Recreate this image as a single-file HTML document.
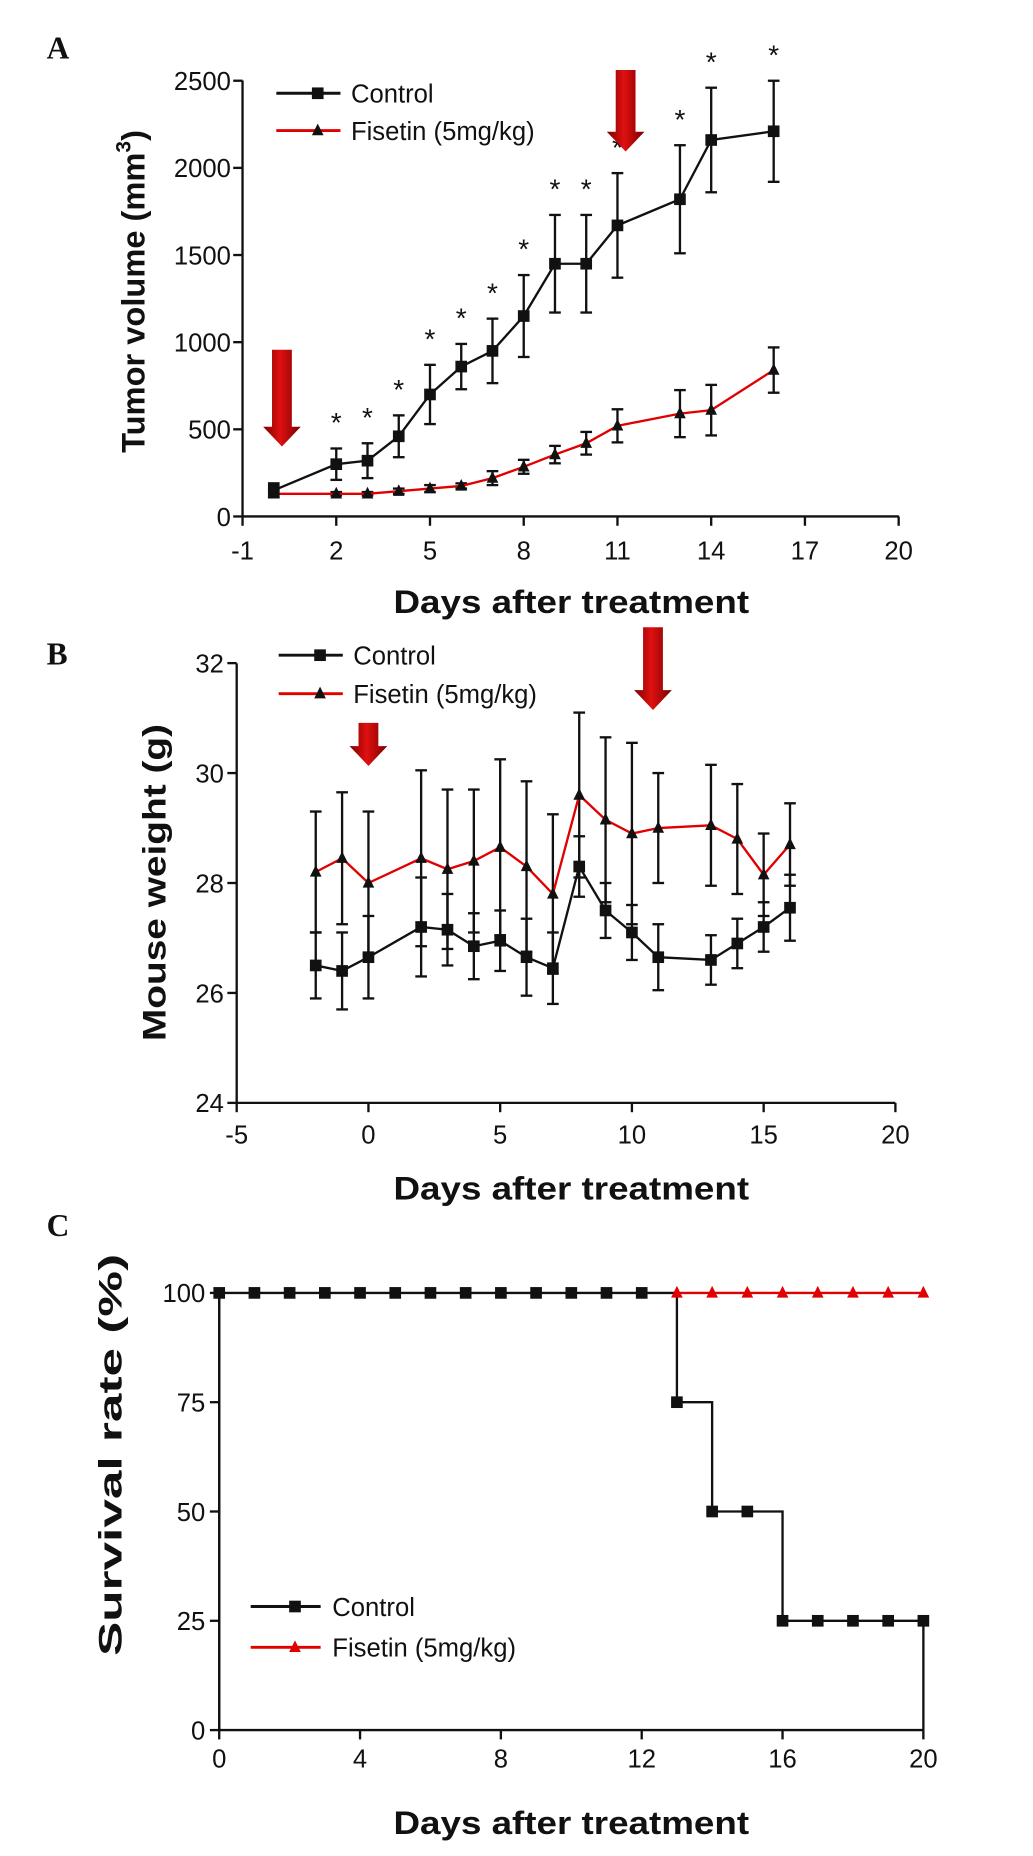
<!DOCTYPE html>
<html><head><meta charset="utf-8"><style>
html,body{margin:0;padding:0;background:#fff}
svg{display:block}
text{font-family:"Liberation Sans",Arial,sans-serif;fill:#111}
.tick{font-size:22px}
.title{font-size:28px;font-weight:bold}
.leg{font-size:22px}
.letter{font-family:"Liberation Serif",serif;font-size:27px;font-weight:bold}
</style></head><body>
<svg id="fig" width="1033" height="1856" viewBox="0 0 886 1592" xmlns="http://www.w3.org/2000/svg">
<defs>
<linearGradient id="arr" x1="0" x2="1" y1="0" y2="0">
<stop offset="0" stop-color="#7a0000"/><stop offset="0.45" stop-color="#e01010"/><stop offset="1" stop-color="#7a0000"/>
</linearGradient>
</defs>
<text class="letter" x="40" y="50">A</text>
<text class="letter" x="40" y="570">B</text>
<text class="letter" x="40" y="1060">C</text>
</svg>
<script>
// Panel A data
const daysA = [0,2,3,4,5,6,7,8,9,10,11,13,14,16];
const ctrlA = [150,300,320,460,700,860,950,1150,1450,1450,1670,1820,2160,2210];
const ctrlAErr = [40,90,100,120,170,130,185,235,280,280,300,310,300,290];
const fisA = [130,130,130,145,160,175,220,285,355,420,520,590,610,840];
const fisAErr = [20,10,10,15,20,15,40,40,50,65,95,135,145,130];
const starDaysA = [2,3,4,5,6,7,8,9,10,11,13,14,16];
const xTicksA = [-1,2,5,8,11,14,17,20];
const yTicksA = [0,500,1000,1500,2000,2500];
const arrowDaysA = [0,11];
// Panel B data
const daysB = [-2,-1,0,2,3,4,5,6,7,8,9,10,11,13,14,15,16];
const ctrlB = [26.5,26.4,26.65,27.2,27.15,26.85,26.95,26.65,26.45,28.3,27.5,27.1,26.65,26.6,26.9,27.2,27.55];
const ctrlBErr = [0.6,0.7,0.75,0.9,0.65,0.6,0.55,0.7,0.65,0.55,0.5,0.5,0.6,0.45,0.45,0.45,0.6];
const fisB = [28.2,28.45,28.0,28.45,28.25,28.4,28.65,28.3,27.8,29.6,29.15,28.9,29.0,29.05,28.8,28.15,28.7];
const fisBErr = [1.1,1.2,1.3,1.6,1.45,1.3,1.6,1.55,1.45,1.5,1.5,1.65,1.0,1.1,1.0,0.75,0.75];
const xTicksB = [-5,0,5,10,15,20];
const yTicksB = [24,26,28,30,32];
// Panel C data
const daysC = [0,1,2,3,4,5,6,7,8,9,10,11,12,13,14,15,16,17,18,19,20];
const ctrlC = [100,100,100,100,100,100,100,100,100,100,100,100,100,75,50,50,25,25,25,25,25];
const fisDaysC = [13,14,15,16,17,18,19,20];
const fisC = [100,100,100,100,100,100,100,100];
const xTicksC = [0,4,8,12,16,20];
const yTicksC = [0,25,50,75,100];

const svg = document.getElementById('fig');
const NS = 'http://www.w3.org/2000/svg';
function mk(tag, attrs, parent){
  const e = document.createElementNS(NS, tag);
  for (const k in attrs) e.setAttribute(k, attrs[k]);
  (parent||svg).appendChild(e);
  return e;
}
function txt(s, attrs){ const t = mk('text', attrs); t.textContent = s; return t; }

const xA = d => 208 + (d+1)*26.8;
const yA = v => 443 - v*0.1495;
const xB = d => 203 + (d+5)*22.6;
const yB = v => 946 - (v-24)*47.15;
const xC = d => 188 + d*30.2;
const yC = v => 1484 - v*3.75;

function axes(x0,x1,y0,y1,xt,yt,xs,ys,xlabY,ylabX,name){
  const g = mk('g',{});
  
  
  mk('line',{x1:x0,y1:y0,x2:x0,y2:y1,stroke:'#111','stroke-width':2},g);
  mk('line',{x1:x0,y1:y0,x2:x1,y2:y0,stroke:'#111','stroke-width':2},g);
  xt.forEach(v=>{
    mk('line',{x1:xs(v),y1:y0,x2:xs(v),y2:y0+8,stroke:'#111','stroke-width':2},g);
    const t = txt(String(v),{class:'tick',x:xs(v),y:xlabY,'text-anchor':'middle'});
    
    
  });
  yt.forEach(v=>{
    mk('line',{x1:x0-8,y1:ys(v),x2:x0,y2:ys(v),stroke:'#111','stroke-width':2},g);
    const t = txt(String(v),{class:'tick',x:ylabX,y:ys(v)+8,'text-anchor':'end'});
    
    
  });
}
function series(days, vals, errs, xs, ys, color, marker, name){
  const g = mk('g',{});
  
  
  if (errs) days.forEach((d,i)=>{
    const x = xs(d), t = ys(vals[i]+errs[i]), b = ys(vals[i]-errs[i]);
    mk('line',{x1:x,y1:t,x2:x,y2:b,stroke:'#111','stroke-width':2},g);
    mk('line',{x1:x-5,y1:t,x2:x+5,y2:t,stroke:'#111','stroke-width':2},g);
    mk('line',{x1:x-5,y1:b,x2:x+5,y2:b,stroke:'#111','stroke-width':2},g);
  });
  mk('polyline',{points:days.map((d,i)=>xs(d)+','+ys(vals[i])).join(' '),fill:'none',stroke:color,'stroke-width':2},g);
  days.forEach((d,i)=>drawMarker(g, xs(d), ys(vals[i]), marker));
}
function drawMarker(g,x,y,marker,fill){
  if (marker==='sq') mk('rect',{x:x-5,y:y-5,width:10,height:10,fill:'#111'},g);
  else mk('polygon',{points:`${x},${y-6} ${x-5},${y+4} ${x+5},${y+4}`,fill:fill||'#111'},g);
}
function arrow(x, top, bot, w, name){
  const hw = w*0.95, sh = w/2, hh = w*1.0;
  const p = mk('polygon',{points:`${x-sh},${top} ${x+sh},${top} ${x+sh},${bot-hh} ${x+hw},${bot-hh} ${x},${bot} ${x-hw},${bot-hh} ${x-sh},${bot-hh}`,fill:'url(#arr)'});
  
  
}
function legend(x1,x2,y,label,color,marker,tx,name,mfill){
  const g = mk('g',{});
  
  
  mk('line',{x1:x1,y1:y,x2:x2,y2:y,stroke:color,'stroke-width':2.5},g);
  drawMarker(g,(x1+x2)/2+8,y,marker,mfill||'#111');
  const t = mk('text',{class:'leg',x:tx,y:y+8},g); t.textContent = label;
}

// ---- Panel A ----
axes(208,771,443,69,xTicksA,yTicksA,xA,yA,480,198,'panel-a');
series(daysA, fisA, fisAErr, xA, yA, '#e00000','tri','fisetin-volume-series');
series(daysA, ctrlA, ctrlAErr, xA, yA, '#111','sq','control-volume-series');
starDaysA.forEach(d=>{
  const i = daysA.indexOf(d);
  const t = txt('*',{x:xA(d),y:yA(ctrlA[i]+ctrlAErr[i])-14,'text-anchor':'middle','font-size':24});
  
  
});
arrowDaysA.forEach((d,i)=>{
  if (i===0) arrow(xA(d)+7, 300, 383, 17, 'treatment-arrow');
  else arrow(xA(d)+7, 60, 130, 17, 'treatment-arrow');
});
legend(237,292,80,'Control','#111','sq',301,'a-legend-control');
legend(237,292,112,'Fisetin (5mg/kg)','#e00000','tri',301,'a-legend-fisetin');
let t;
t = txt('Days after treatment',{class:'title',x:490,y:526,'text-anchor':'middle',textLength:305,lengthAdjust:'spacingAndGlyphs'});
 
t = mk('text',{class:'title',transform:'translate(124,250) rotate(-90)','text-anchor':'middle'});
t.innerHTML = 'Tumor volume (mm<tspan dy="-12" font-size="18">3</tspan><tspan dy="12">)</tspan>';
 

// ---- Panel B ----
axes(203,768,946,569,xTicksB,yTicksB,xB,yB,981,192,'panel-b');
series(daysB, fisB, fisBErr, xB, yB, '#e00000','tri','fisetin-weight-series');
series(daysB, ctrlB, ctrlBErr, xB, yB, '#111','sq','control-weight-series');
arrow(xB(0), 620, 657, 17, 'treatment-arrow-b1');
arrow(xB(10.8), 538, 609, 17, 'treatment-arrow-b2');
legend(239,294,562,'Control','#111','sq',303,'b-legend-control');
legend(239,294,595,'Fisetin (5mg/kg)','#e00000','tri',303,'b-legend-fisetin');
t = txt('Days after treatment',{class:'title',x:490,y:1029,'text-anchor':'middle',textLength:305,lengthAdjust:'spacingAndGlyphs'});
 
t = txt('Mouse weight (g)',{class:'title',transform:'translate(142,757) rotate(-90)','text-anchor':'middle',textLength:272,lengthAdjust:'spacingAndGlyphs'});
 

// ---- Panel C ----
axes(188,792,1484,1109,xTicksC,yTicksC,xC,yC,1516,176,'panel-c');
(function(){
  const g = mk('g',{});
  
  
  let pts = [];
  daysC.forEach((d,i)=>{
    if (i>0) pts.push(xC(d)+','+yC(ctrlC[i-1]));
    pts.push(xC(d)+','+yC(ctrlC[i]));
  });
  pts.push(xC(daysC[daysC.length-1])+','+yC(0));
  mk('polyline',{points:pts.join(' '),fill:'none',stroke:'#111','stroke-width':2},g);
  mk('line',{x1:xC(0),y1:yC(100),x2:xC(0),y2:yC(0),stroke:'#111','stroke-width':2},g);
  daysC.forEach((d,i)=>drawMarker(g,xC(d),yC(ctrlC[i]),'sq'));
  const g2 = mk('g',{});
  
  
  mk('polyline',{points:fisDaysC.map((d,i)=>xC(d)+','+yC(fisC[i])).join(' '),fill:'none',stroke:'#e00000','stroke-width':2},g2);
  fisDaysC.forEach((d,i)=>drawMarker(g2,xC(d),yC(fisC[i]),'tri','#e00000'));
})();
legend(215,275,1378,'Control','#111','sq',285,'c-legend-control');
legend(215,275,1413,'Fisetin (5mg/kg)','#e00000','tri',285,'c-legend-fisetin','#e00000');
t = txt('Days after treatment',{class:'title',x:490,y:1573,'text-anchor':'middle',textLength:305,lengthAdjust:'spacingAndGlyphs'});
 
t = txt('Survival rate (%)',{class:'title',transform:'translate(104,1248) rotate(-90)','text-anchor':'middle',textLength:345,lengthAdjust:'spacingAndGlyphs'});
 
</script>
</body></html>
